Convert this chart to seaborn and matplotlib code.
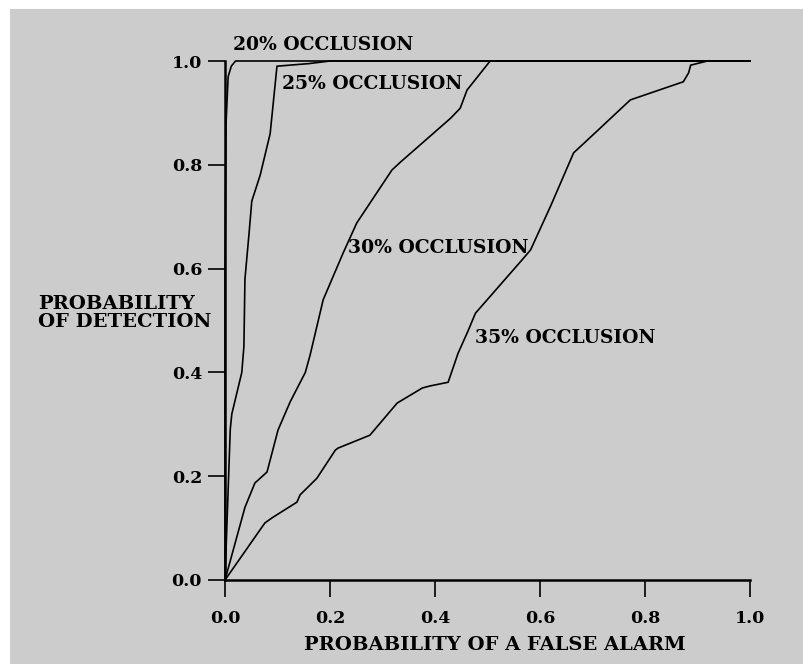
import matplotlib
matplotlib.use("Agg")
import matplotlib.pyplot as plt
import seaborn as sns
import pandas as pd
from matplotlib.patches import Rectangle

# ROC curves
occ20_x = [0.0, 0.0, 0.002, 0.006, 0.012, 0.02, 1.0]
occ20_y = [0.0, 0.60, 0.88, 0.97, 0.99, 1.0, 1.0]

occ25_x = [0.0, 0.010, 0.013, 0.032, 0.036, 0.038, 0.046, 0.051, 0.067, 0.086,
           0.092, 0.097, 0.099, 0.16, 0.20, 1.0]
occ25_y = [0.0, 0.29, 0.32, 0.40, 0.45, 0.58, 0.67, 0.73, 0.78, 0.86,
           0.92, 0.97, 0.99, 0.995, 1.0, 1.0]

occ30_x = [0.0, 0.038, 0.057, 0.080, 0.086, 0.101, 0.124, 0.153, 0.162, 0.187,
           0.225, 0.251, 0.318, 0.334, 0.43, 0.448, 0.461, 0.505, 1.0]
occ30_y = [0.0, 0.14, 0.187, 0.208, 0.231, 0.289, 0.343, 0.40, 0.433, 0.54,
           0.63, 0.688, 0.79, 0.805, 0.89, 0.909, 0.944, 1.0, 1.0]

occ35_x = [0.0, 0.076, 0.090, 0.137, 0.143, 0.175, 0.21, 0.215, 0.276, 0.328,
           0.376, 0.391, 0.425, 0.444, 0.463, 0.477, 0.566, 0.582, 0.62, 0.664,
           0.715, 0.772, 0.873, 0.883, 0.887, 0.919, 1.0]
occ35_y = [0.0, 0.11, 0.12, 0.15, 0.164, 0.196, 0.25, 0.254, 0.279, 0.341,
           0.37, 0.374, 0.381, 0.437, 0.48, 0.514, 0.617, 0.636, 0.72, 0.823,
           0.871, 0.925, 0.96, 0.977, 0.992, 1.0, 1.0]

curve_names = ["20% OCCLUSION", "25% OCCLUSION", "30% OCCLUSION", "35% OCCLUSION"]
ticks = [0.0, 0.2, 0.4, 0.6, 0.8, 1.0]
tick_labels = ["0.0", "0.2", "0.4", "0.6", "0.8", "1.0"]

sns.set_style("ticks")
plt.rcParams["font.family"] = ["DejaVu Serif"]
plt.rcParams["font.weight"] = "bold"
plt.rcParams["text.color"] = "black"

gray = "#cccccc"
fig = plt.figure(figsize=(8.04, 6.64), dpi=100, facecolor="white")
# scanned page: gray area with thin white strip at top/left
fig.patches.append(Rectangle((10 / 804, 0), 1, 1 - 9 / 664, transform=fig.transFigure,
                             facecolor=gray, edgecolor="none", zorder=-10))
ax = fig.add_axes([225 / 804, 1 - 580 / 664, 525 / 804, 519 / 664])
ax.set_facecolor(gray)

curves = [(occ20_x, occ20_y), (occ25_x, occ25_y), (occ30_x, occ30_y), (occ35_x, occ35_y)]
for name, (xs, ys) in zip(curve_names, curves):
    df = pd.DataFrame({"false_alarm": xs, "detection": ys})
    sns.lineplot(data=df, x="false_alarm", y="detection", sort=False, estimator=None,
                 color="black", linewidth=1.2, ax=ax, clip_on=False)

ax.set_xlim(0, 1)
ax.set_ylim(0, 1)
ax.set_xticks(ticks)
ax.set_xticklabels(tick_labels)
ax.set_yticks(ticks)
ax.set_yticklabels(tick_labels)
ax.set_xlabel("")
ax.set_ylabel("")
sns.despine(ax=ax)
for side in ["left", "bottom"]:
    ax.spines[side].set_linewidth(1.8)
    ax.spines[side].set_color("black")
ax.tick_params(axis="both", direction="out", length=12.5, width=1.2, colors="black",
               labelsize=12.5)
ax.tick_params(axis="x", pad=9)
ax.tick_params(axis="y", pad=4)

# curve labels
txt = dict(fontsize=13.5, fontweight="bold", color="black", va="center", ha="left")
ax.text(0.015, 1.03, curve_names[0], **txt)
ax.text(0.108, 0.955, curve_names[1], **txt)
ax.text(0.235, 0.64, curve_names[2], **txt)
ax.text(0.477, 0.467, curve_names[3], **txt)

fig.text(38 / 804, 1 - 313 / 664, "PROBABILITY\nOF DETECTION", fontsize=14,
         fontweight="bold", color="black", ha="left", va="center", linespacing=1.05)
fig.text(495 / 804, 1 - 645 / 664, "PROBABILITY OF A FALSE ALARM", fontsize=14,
         fontweight="bold", color="black", ha="center", va="center")

fig.savefig("out.png", dpi=100, facecolor="white")
